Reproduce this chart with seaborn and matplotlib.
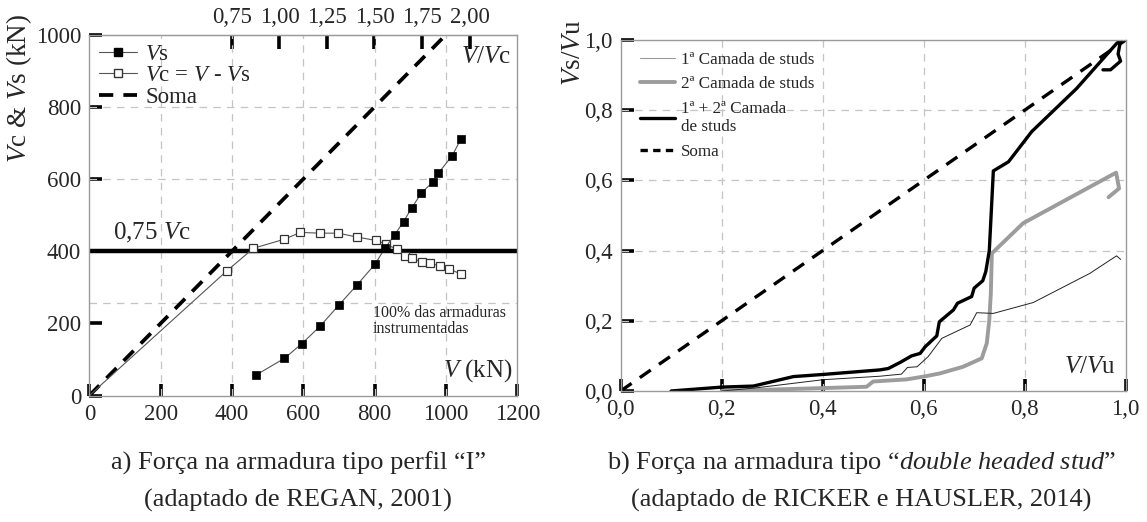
import numpy as np
import matplotlib
matplotlib.use('Agg')
import matplotlib.pyplot as plt
import seaborn as sns
from matplotlib.lines import Line2D
from matplotlib.ticker import FixedLocator

# ---------------- data: panel a) ----------------
V_VS = [466, 547, 595, 647, 699, 751, 801, 830, 856, 881, 904, 931, 963, 979, 1017, 1042]
VS = [56, 103, 143, 192, 250, 307, 364, 410, 445, 482, 520, 561, 592, 617, 664, 711]
V_VC = [0, 385, 460, 546, 592, 646, 698, 751, 803, 832, 862, 885, 906, 932, 954, 983, 1008, 1042]
VC = [0, 345, 408, 433, 452, 450, 450, 439, 430, 420, 405, 387, 381, 369, 366, 360, 352, 336]
V_SOMA_A = [0, 1000]
SOMA_A = [0, 1000]
V_075 = [0, 1200]
LEVEL_075 = [400, 400]
VC_REF = 533
X_TICKS_A = [0, 200, 400, 600, 800, 1000, 1200]
Y_TICKS_A = [0, 200, 400, 600, 800, 1000]
TOP_TICKS = [0.75, 1.00, 1.25, 1.50, 1.75, 2.00]
TOP_LABELS = ['0,75', '1,00', '1,25', '1,50', '1,75', '2,00']
GRID_X_A = [200, 400, 600, 800, 1000]
GRID_Y_A = [257, 400, 600, 800]

# ---------------- data: panel b) ----------------
U_L1 = [0.20, 0.263, 0.40, 0.513, 0.556, 0.568, 0.587, 0.609, 0.636, 0.692, 0.705, 0.738, 0.817, 0.929, 0.982, 0.99]
S_L1 = [0.0, 0.008, 0.032, 0.042, 0.048, 0.067, 0.069, 0.098, 0.15, 0.188, 0.223, 0.221, 0.252, 0.335, 0.385, 0.375]
U_L2 = [0.20, 0.395, 0.487, 0.50, 0.566, 0.60, 0.632, 0.678, 0.715, 0.725, 0.73, 0.733, 0.735, 0.797, 0.981, 0.987, 0.966]
S_L2 = [0.0, 0.008, 0.012, 0.027, 0.033, 0.041, 0.05, 0.069, 0.093, 0.136, 0.202, 0.278, 0.392, 0.478, 0.622, 0.577, 0.552]
U_L12 = [0.10, 0.20, 0.263, 0.342, 0.40, 0.513, 0.53, 0.553, 0.576, 0.593, 0.603, 0.626, 0.631, 0.659, 0.667,
         0.695, 0.70, 0.717, 0.723, 0.73, 0.738, 0.768, 0.814, 0.903, 0.982, 0.99, 0.985, 0.99, 0.97, 0.955]
S_L12 = [0.0, 0.011, 0.014, 0.041, 0.047, 0.060, 0.064, 0.081, 0.10, 0.107, 0.126, 0.157, 0.197, 0.231, 0.25,
         0.269, 0.293, 0.314, 0.34, 0.40, 0.627, 0.653, 0.739, 0.862, 0.99, 1.0, 0.96, 0.94, 0.915, 0.915]
U_SOMA_B = [0.0, 1.0]
SOMA_B = [0.0, 1.0]
TICKS_B = [0.0, 0.2, 0.4, 0.6, 0.8, 1.0]
TICK_LABELS_B = ['0,0', '0,2', '0,4', '0,6', '0,8', '1,0']
GRID_B = [0.2, 0.4, 0.6, 0.8]

# ---------------- style ----------------
sns.set_style('white')
plt.rcParams['font.family'] = ['Liberation Serif', 'DejaVu Serif']
plt.rcParams['mathtext.fontset'] = 'custom'
plt.rcParams['mathtext.rm'] = 'Liberation Serif'
plt.rcParams['mathtext.it'] = 'Liberation Serif:italic'
plt.rcParams['mathtext.bf'] = 'Liberation Serif:bold'

FS = 16.5
FS_LAB = 18
SPINE = '#9a9a9a'
GRID = '#c4c4c4'

fig = plt.figure(figsize=(11.47, 5.22), dpi=100)
axA = fig.add_axes([0.0779, 0.2423, 0.3731, 0.6912])
axB = fig.add_axes([0.5411, 0.251, 0.4403, 0.6724])


def style_axes(ax, gx, gy):
    ax.xaxis.remove_overlapping_locs = False
    ax.yaxis.remove_overlapping_locs = False
    ax.xaxis.set_minor_locator(FixedLocator(gx))
    ax.yaxis.set_minor_locator(FixedLocator(gy))
    ax.grid(False, which='major')
    ax.grid(True, which='minor', color=GRID, linestyle=(0, (6, 5)), linewidth=0.9)
    ax.set_axisbelow(True)
    for sp in ax.spines.values():
        sp.set_color(SPINE)
        sp.set_linewidth(1.0)
        sp.set_visible(True)
    ax.tick_params(which='major', direction='in', length=9, width=2.6, color='black',
                   labelsize=FS, pad=6, bottom=True, left=True)
    ax.tick_params(which='minor', length=0)


# ---------------- panel a ----------------
style_axes(axA, GRID_X_A, GRID_Y_A)
sns.lineplot(x=V_075, y=LEVEL_075, ax=axA, color='black', lw=3.2, sort=False, estimator=None)
sns.lineplot(x=V_SOMA_A, y=SOMA_A, ax=axA, color='black', lw=2.7, linestyle=(0, (3.8, 2.7)),
             sort=False, estimator=None)
sns.lineplot(x=V_VC, y=VC, ax=axA, color='#555555', lw=0.8, marker='s', markersize=6,
             markerfacecolor='white', markeredgecolor='#333333', markeredgewidth=0.9,
             markevery=list(range(1, len(V_VC))), sort=False, estimator=None)
sns.lineplot(x=V_VS, y=VS, ax=axA, color='#555555', lw=0.8, marker='s', markersize=6,
             markerfacecolor='black', markeredgecolor='black', markeredgewidth=0.5,
             sort=False, estimator=None)
axA.set_xlim(0, 1200)
axA.set_ylim(0, 1000)
axA.set_xticks(X_TICKS_A)
axA.set_yticks(Y_TICKS_A)
axA.set_xlabel('')
axA.set_ylabel(r'$V$c & $V$s (kN)', fontsize=19.5)
axA.yaxis.set_label_coords(-0.129, 0.852)

sec = axA.secondary_xaxis('top', functions=(lambda v: np.asarray(v) / VC_REF,
                                             lambda r: np.asarray(r) * VC_REF))
sec.set_xticks(TOP_TICKS, labels=TOP_LABELS)
sec.tick_params(direction='in', length=10, width=2.6, color='black', labelsize=FS, pad=5)
sec.spines['top'].set_color(SPINE)

axA.text(66, 418, r'0,75 $V$c', fontsize=FS_LAB, va='bottom', ha='left')
axA.text(795, 252, '100% das armaduras\ninstrumentadas', fontsize=11.5, va='top', ha='left',
         linespacing=1.0)
axA.text(0.99, 0.068, r'$V$ (kN)', transform=axA.transAxes, ha='right', va='center', fontsize=FS_LAB)
axA.text(0.985, 0.938, r'$V/V$c', transform=axA.transAxes, ha='right', va='center', fontsize=FS_LAB)

hA = [Line2D([], [], color='#555555', lw=0.8, marker='s', ms=6, mfc='black', mec='black'),
      Line2D([], [], color='#555555', lw=0.8, marker='s', ms=6, mfc='white', mec='#333333'),
      Line2D([], [], color='black', lw=2.7, linestyle=(0, (3.8, 2.7)))]
lA = [r'$V$s', r'$V$c = $V$ - $V$s', 'Soma']
axA.legend(hA, lA, loc='upper left', bbox_to_anchor=(0.0, 1.0), frameon=False, fontsize=FS,
           handlelength=1.7, handletextpad=0.35, labelspacing=0.02, borderaxespad=0.2,
           borderpad=0.2, numpoints=1)

# ---------------- panel b ----------------
style_axes(axB, GRID_B, GRID_B)
sns.lineplot(x=U_SOMA_B, y=SOMA_B, ax=axB, color='black', lw=2.4, linestyle=(0, (4.0, 3.0)),
             sort=False, estimator=None)
sns.lineplot(x=U_L2, y=S_L2, ax=axB, color='#9c9c9c', lw=2.8, sort=False, estimator=None)
sns.lineplot(x=U_L1, y=S_L1, ax=axB, color='#222222', lw=0.7, sort=False, estimator=None)
sns.lineplot(x=U_L12, y=S_L12, ax=axB, color='black', lw=2.4, sort=False, estimator=None)
axB.set_xlim(0, 1)
axB.set_ylim(0, 1)
axB.set_xticks(TICKS_B, labels=TICK_LABELS_B)
axB.set_yticks(TICKS_B, labels=TICK_LABELS_B)
axB.set_xlabel('')
axB.set_ylabel(r'$V$s/$V$u', fontsize=19.5)
axB.yaxis.set_label_coords(-0.069, 0.963)
axB.text(0.98, 0.068, r'$V/V$u', transform=axB.transAxes, ha='right', va='center', fontsize=FS_LAB)

hB = [Line2D([], [], color='#9a9a9a', lw=0.8),
      Line2D([], [], color='#9c9c9c', lw=2.8),
      Line2D([], [], color='black', lw=2.4),
      Line2D([], [], color='black', lw=2.4, linestyle=(0, (2.2, 1.6)))]
lB = ['1ª Camada de studs', '2ª Camada de studs', '1ª + 2ª Camada\nde studs', 'Soma']
axB.legend(hB, lB, loc='upper left', bbox_to_anchor=(0.005, 1.015), frameon=False, fontsize=12.3,
           handlelength=2.06, handletextpad=0.3, labelspacing=0.5, borderaxespad=0.5,
           borderpad=0.5)

# ---------------- captions ----------------
fig.text(0.26, 0.113, 'a) Força na armadura tipo perfil “I”', ha='center', va='center', fontsize=19)
fig.text(0.26, 0.042, '(adaptado de REGAN, 2001)', ha='center', va='center', fontsize=19)
fig.text(0.751, 0.113, r'b) Força na armadura tipo “$\mathit{double\ headed\ stud}$”',
         ha='center', va='center', fontsize=19)
fig.text(0.751, 0.042, '(adaptado de RICKER e HAUSLER, 2014)', ha='center', va='center', fontsize=19)

fig.savefig('out.png', dpi=100)
